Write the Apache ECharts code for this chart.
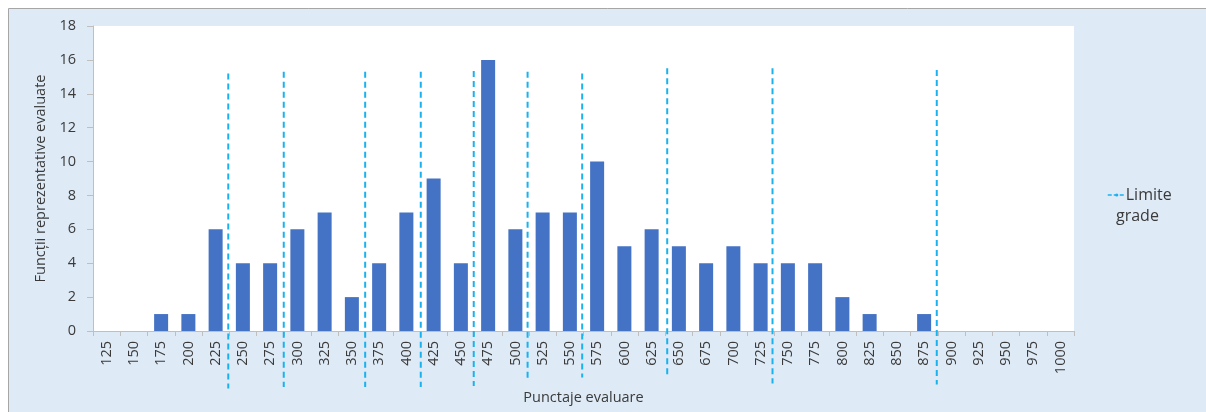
<!DOCTYPE html>
<html>
<head>
<meta charset="utf-8">
<script src="https://cdn.jsdelivr.net/npm/echarts@6/dist/echarts.min.js"></script>
<style>
  html, body { margin: 0; padding: 0; background: #ffffff; }
  #chart { width: 1206px; height: 412px; }
</style>
</head>
<body>
<div id="chart"></div>
<script>
// Score classes (x axis categories)
const scoreLabels = ['125','150','175','200','225','250','275','300','325','350','375','400',
  '425','450','475','500','525','550','575','600','625','650','675','700','725','750','775',
  '800','825','850','875','900','925','950','975','1000'];

// Number of evaluated functions in each score class
const functionCounts = [0,0,1,1,6,4,4,6,7,2,4,7,9,4,16,6,7,7,10,5,6,5,4,5,4,4,4,2,1,0,1,0,0,0,0,0];

// Grade limits expressed as scores, with the vertical extent of each marker line
const gradeLimits = [236.6, 287.5, 362.2, 413.2, 461.8, 511.2, 561.3, 639.3, 735.9, 886.6];
const limitTops    = [15.2, 15.3, 15.3, 15.3, 15.35, 15.3, 15.2, 15.5, 15.5, 15.4];
const limitBottoms = [-3.4, -3.3, -3.3, -3.3, -3.25, -2.8, -2.75, -2.55, -3.1, -3.15];

const FONT = '"Open Sans", "Liberation Sans", sans-serif';
const TEXT = '#3A3A3A';
const AXIS = '#BFBFBF';
const LIMIT_COLOR = '#1AB2EE';
const FS = 14.5;

const limitSeries = gradeLimits.map((g, i) => ({
  name: 'Limite grade',
  type: 'line',
  xAxisIndex: 1,
  yAxisIndex: 0,
  clip: false,
  symbol: 'none',
  silent: true,
  z: 5,
  lineStyle: { color: LIMIT_COLOR, width: 2, type: [6, 4] },
  itemStyle: { color: LIMIT_COLOR },
  data: [[g, limitTops[i]], [g, limitBottoms[i]]]
}));

const chart = echarts.init(document.getElementById('chart'), null, { renderer: 'canvas' });

chart.setOption({
  backgroundColor: '#ffffff',
  animation: false,
  textStyle: { fontFamily: FONT },
  graphic: [
    {
      type: 'rect',
      z: -10,
      silent: true,
      shape: { x: 8.5, y: 8.5, width: 1210, height: 420 },
      style: { fill: '#DEEAF6', stroke: '#A6A6A6', lineWidth: 1 }
    },
    {
      type: 'text',
      left: 1116,
      top: 208,
      silent: true,
      style: { text: 'grade', fill: TEXT, font: '16px ' + FONT }
    }
  ],
  grid: {
    left: 93, right: 132, top: 26, bottom: 81,
    show: true, backgroundColor: '#ffffff', borderWidth: 0
  },
  legend: {
    show: true,
    data: [{ name: 'Limite grade' }],
    left: 1102,
    top: 182,
    itemWidth: 18,
    itemHeight: 4,
    itemGap: 0,
    formatter: () => 'Limite',
    textStyle: { color: TEXT, fontSize: 16, fontFamily: FONT, padding: [0, 0, 0, -5] },
    lineStyle: { color: LIMIT_COLOR, width: 1.5, type: [4, 2] },
    selectedMode: false
  },
  xAxis: [
    {
      type: 'category',
      data: scoreLabels,
      boundaryGap: true,
      name: 'Punctaje evaluare',
      nameLocation: 'middle',
      nameGap: 59,
      nameTextStyle: { color: TEXT, fontSize: FS, fontFamily: FONT },
      axisLine: { show: true, lineStyle: { color: AXIS, width: 1 } },
      axisTick: { show: true, length: 5, lineStyle: { color: AXIS } },
      axisLabel: { interval: 0, rotate: 90, margin: 10, color: TEXT, fontSize: FS, fontFamily: FONT },
      splitLine: { show: false }
    },
    {
      type: 'value',
      min: 112.5,
      max: 1012.5,
      show: false,
      splitLine: { show: false }
    }
  ],
  yAxis: {
    type: 'value',
    min: 0,
    max: 18,
    interval: 2,
    name: 'Funcții reprezentative evaluate',
    nameLocation: 'middle',
    nameGap: 43,
    nameTextStyle: { color: TEXT, fontSize: FS, fontFamily: FONT },
    axisLine: { show: true, lineStyle: { color: AXIS, width: 1 } },
    axisTick: { show: true, length: 6, lineStyle: { color: AXIS } },
    axisLabel: { margin: 17, color: TEXT, fontSize: FS, fontFamily: FONT },
    splitLine: { show: false }
  },
  series: [
    {
      name: 'Funcții',
      type: 'bar',
      xAxisIndex: 0,
      yAxisIndex: 0,
      barWidth: 14,
      itemStyle: { color: '#4472C4' },
      data: functionCounts
    },
    ...limitSeries
  ]
});
</script>
</body>
</html>
